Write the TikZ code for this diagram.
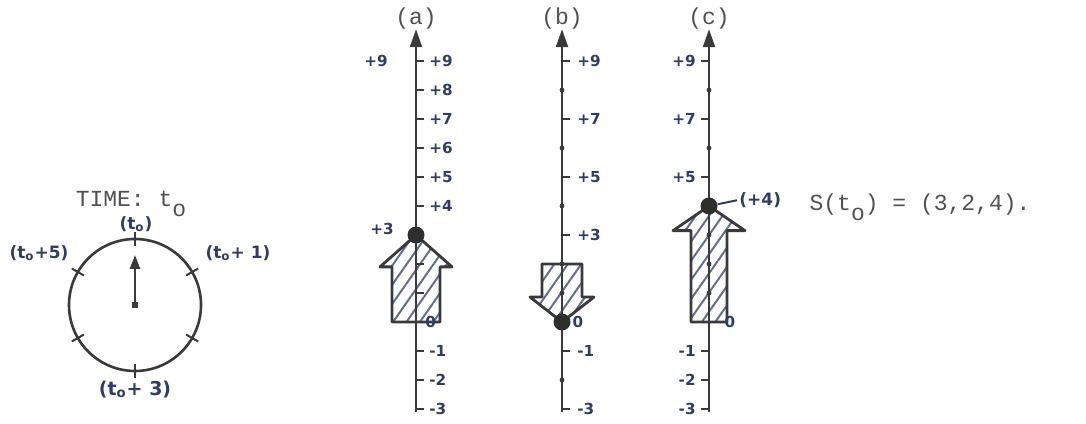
\documentclass[tikz,border=0pt]{standalone}
\usepackage{fontspec}
\setmonofont{Liberation Mono}
\newfontfamily\handfont{DejaVu Sans}
\usetikzlibrary{positioning, calc, arrows.meta, patterns.meta}
\definecolor{Ink}{HTML}{3A3A3A}
\definecolor{Pen}{HTML}{2F3C68}
\definecolor{Type}{HTML}{505050}
\tikzset{
    axisline/.style={-{Triangle[length=9pt, width=6pt]}, line width=1.1pt, color=Ink},
    tickline/.style={line width=1pt, color=Ink},
    blockarrow/.style={draw=Ink, line width=1.4pt, line join=round,
        pattern={Lines[angle=55, distance=5.5pt, line width=1pt]}, pattern color=Pen!75},
    posdot/.style={circle, fill=Ink!80!black, inner sep=0pt, minimum size=8.5pt},
    tickdot/.style={circle, fill=Ink, inner sep=0pt, minimum size=2.4pt},
    penlabel/.style={font=\handfont\bfseries\fontsize{7.6}{8}\selectfont, text=Pen, inner sep=1pt},
    clocklabel/.style={font=\handfont\bfseries\fontsize{8.5}{9}\selectfont, text=Pen, inner sep=1pt},
    typelabel/.style={font=\ttfamily\fontsize{11.5}{12}\selectfont, text=Type, inner sep=1pt},
}
\newcommand{\tsub}{t\textsubscript{o}}

\begin{document}
\begin{tikzpicture}[x=0.5pt, y=0.5pt]
    \useasboundingbox (0,0) rectangle (1086,423);

    % Clock
    \node[circle, draw=Ink, line width=1.3pt, minimum size=66pt, inner sep=0pt] (clock) at (135,118) {};
    \foreach \a in {90,30,-30,-90,-150,150} {
        \draw[tickline] ($(clock.center)+(\a:59)$) -- ($(clock.center)+(\a:73)$);
    }
    \node[fill=Ink, minimum size=3pt, inner sep=0pt] (hub) at (clock.center) {};
    \coordinate (hand) at (135,168);
    \draw[-{Triangle[length=7pt, width=5pt]}, line width=1.2pt, Ink] (hub) -- (hand);
    \node[clocklabel] (c0) at (136,199) {(\tsub)};
    \node[clocklabel] (c1) at (238,170) {(\tsub+ 1)};
    \node[clocklabel] (c5) at (39,170) {(\tsub+5)};
    \node[clocklabel, font=\handfont\bfseries\fontsize{9.5}{10}\selectfont] (c3) at (135,33) {(\tsub+ 3)};
    \node[typelabel] (time) at (131,219) {TIME: t\raisebox{-0.8ex}{o}};

    % Axis (a)
    \begin{scope}[shift={(416,101)}, yscale=29]
        \draw[blockarrow] (-24,0) -- (-24,1.9) -- (-36,1.9) -- (0,3) -- (36,1.9) -- (24,1.9) -- (24,0) -- cycle;
        \coordinate (a-bot) at (0,-3.1);
        \coordinate (a-top) at (0,10.1);
        \draw[axisline] (a-bot) -- (a-top);
        \foreach \v in {-3,...,9} {
            \draw[tickline] (0,\v) -- (8,\v);
        }
        \foreach \v in {4,...,9} {
            \node[penlabel, anchor=west] (a-l\v) at (11,\v) {+\v};
        }
        \foreach \v in {1,2,3} {
            \node[penlabel, anchor=west] (a-m\v) at (11,-\v) {-\v};
        }
        \node[penlabel, anchor=west] (a-zero) at (7,0) {0};
        \node[penlabel, anchor=east] (a-left9) at (-26,9) {+9};
        \node[penlabel, anchor=east] (a-left3) at (-20,3.2) {+3};
        \node[posdot] (a-dot) at (0,3) {};
        \node[typelabel] (a-name) at (0,10.45) {(a)};
    \end{scope}

    % Axis (b)
    \begin{scope}[shift={(562,101)}, yscale=29]
        \draw[blockarrow] (-20,2) -- (20,2) -- (20,0.86) -- (32,0.86) -- (0,0) -- (-32,0.86) -- (-20,0.86) -- cycle;
        \coordinate (b-bot) at (0,-3.1);
        \coordinate (b-top) at (0,10.1);
        \draw[axisline] (b-bot) -- (b-top);
        \foreach \v/\t in {9/+9, 7/+7, 5/+5, 3/+3, -1/-1, -3/-3} {
            \draw[tickline] (0,\v) -- (8,\v);
            \node[penlabel, anchor=west] (b-l\v) at (13,\v) {\t};
        }
        \foreach \v in {8,6,4,2,1,-2} {
            \node[tickdot] (b-d\v) at (0,\v) {};
        }
        \node[posdot] (b-dot) at (0,0) {};
        \node[penlabel] (b-zero) at (16,0) {0};
        \node[typelabel] (b-name) at (0,10.45) {(b)};
    \end{scope}

    % Axis (c)
    \begin{scope}[shift={(709,101)}, yscale=29]
        \draw[blockarrow] (-18,0) -- (-18,3.15) -- (-36,3.15) -- (0,4) -- (36,3.15) -- (18,3.15) -- (18,0) -- cycle;
        \coordinate (c-bot) at (0,-3.1);
        \coordinate (c-top) at (0,10.1);
        \draw[axisline] (c-bot) -- (c-top);
        \foreach \v/\t in {9/+9, 7/+7, 5/+5, -1/-1, -2/-2, -3/-3} {
            \draw[tickline] (-8,\v) -- (0,\v);
            \node[penlabel, anchor=east] (c-l\v) at (-11,\v) {\t};
        }
        \foreach \v in {8,6,3,2,1} {
            \node[tickdot] (c-d\v) at (0,\v) {};
        }
        \node[penlabel] (c-zero) at (21,0) {0};
        \node[posdot] (c-dot) at (0,4) {};
        \node[clocklabel, anchor=west] (c-four) at (28,4.2) {(+4)};
        \draw[tickline, Pen] (c-dot) -- (c-four.west);
        \node[typelabel] (c-name) at (0,10.45) {(c)};
    \end{scope}

    % State
    \node[typelabel] (state) at (920,216) {S(t\raisebox{-0.8ex}{o}) = (3,2,4).};
\end{tikzpicture}
\end{document}
